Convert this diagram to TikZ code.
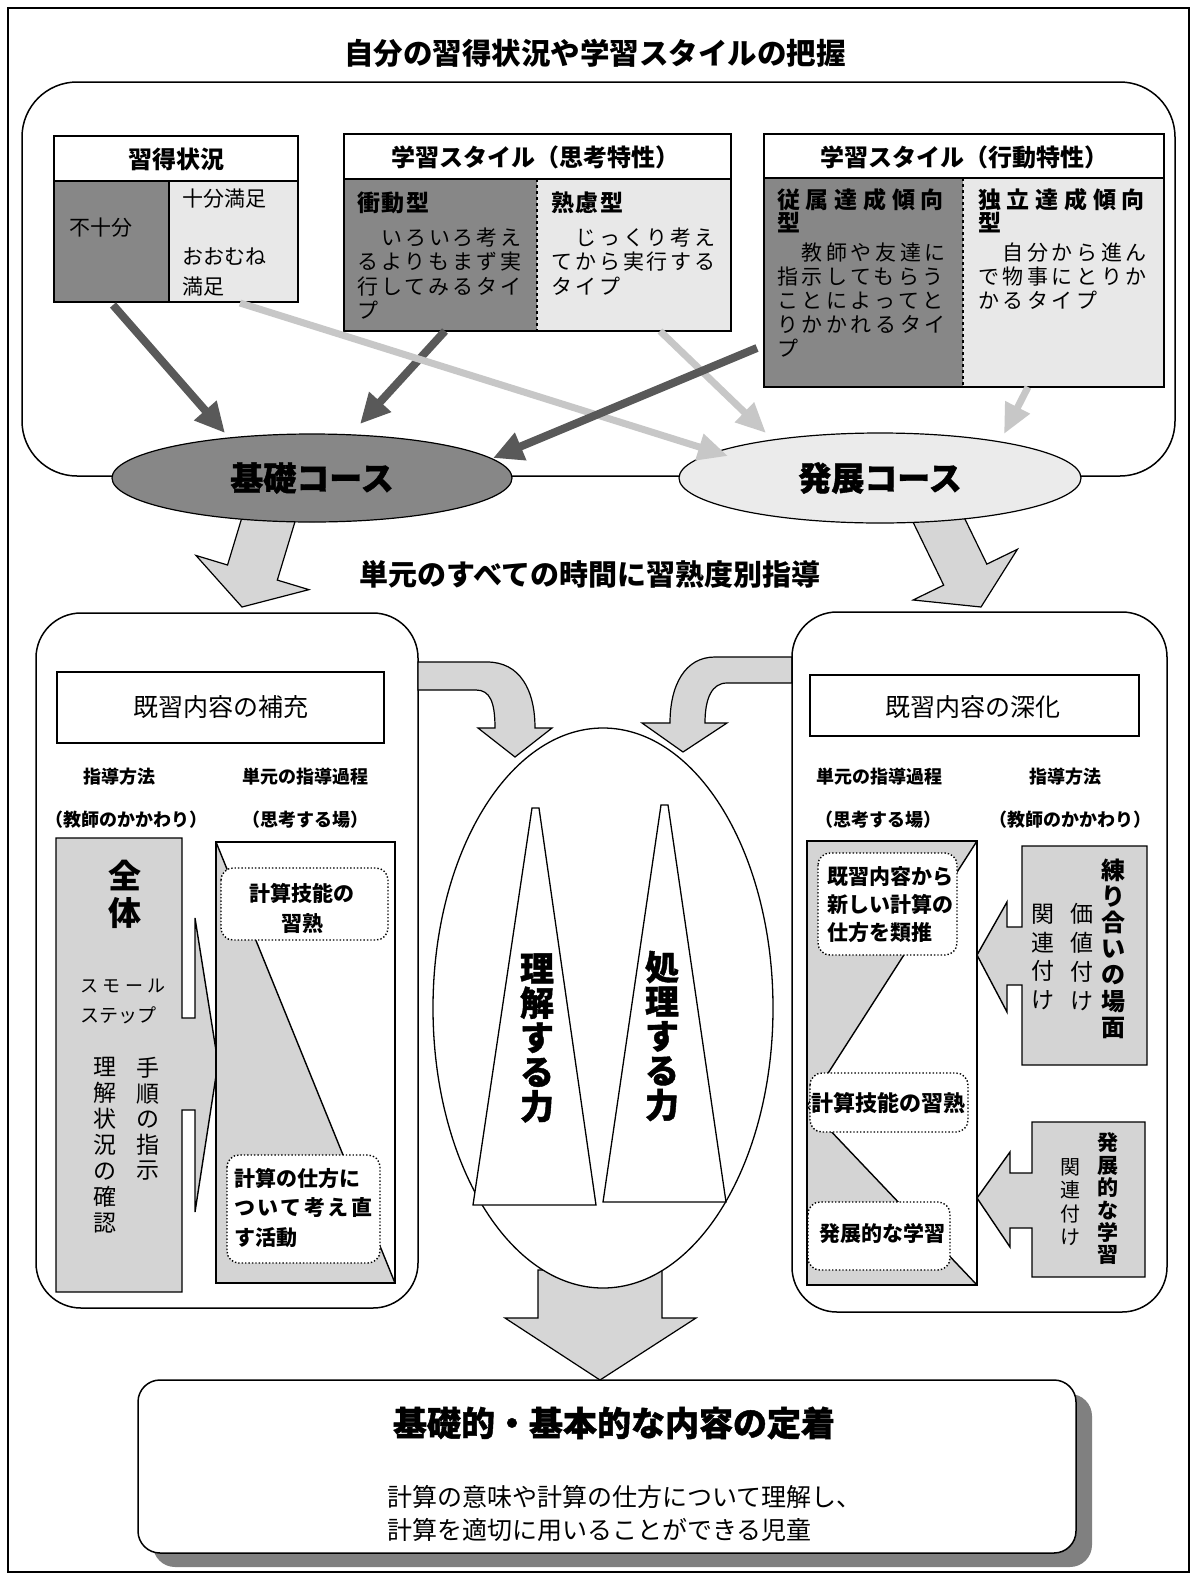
\documentclass[tikz,border=0pt]{standalone}
\usepackage{fontspec}
\setmainfont{Noto Sans CJK JP}
\newfontfamily\jp{Noto Sans CJK JP}
\newfontfamily\jpheavy[FakeBold=1.2]{Noto Sans CJK JP}
\newfontfamily\jpsa[LetterSpace=14]{Noto Sans CJK JP}
\newfontfamily\jpsb[LetterSpace=17]{Noto Sans CJK JP}
\newfontfamily\jpsc[LetterSpace=25]{Noto Sans CJK JP}
\newfontfamily\jpsd[LetterSpace=7]{Noto Sans CJK JP}
\newfontfamily\jpse[LetterSpace=12]{Noto Sans CJK JP}
\usetikzlibrary{arrows.meta,calc,shapes.geometric}
\newcommand\myfs[2]{\fontsize{#1}{#2}\selectfont}
\newcommand\blockarrow[4]{%
  \coordinate (#1-b) at ($(#1-e)!#4!(#1-s)$);
  \draw[blockstyle] ($(#1-s)!#2!90:(#1-e)$) -- ($(#1-b)!#2!-90:(#1-s)$) -- ($(#1-b)!#3!-90:(#1-s)$) -- (#1-e) -- ($(#1-b)!#3!90:(#1-s)$) -- ($(#1-b)!#2!90:(#1-s)$) -- ($(#1-s)!#2!-90:(#1-e)$) -- cycle;}
\begin{document}
\begin{tikzpicture}[x=1pt,y=-1pt,
  every node/.style={inner sep=0pt},
  frameline/.style={line width=1.5pt},
  panelline/.style={line width=1.5pt},
  cellbox/.style={draw, line width=1.4pt},
  darkcell/.style={fill=black!47},
  lightcell/.style={fill=black!9},
  darkarrow/.style={draw=black!65, line width=8pt, -{Triangle[length=30pt,width=28pt]}},
  lightarrow/.style={draw=black!22, line width=7pt, -{Triangle[length=30pt,width=26pt]}},
  blockstyle/.style={fill=black!16, draw, line width=1.2pt, line join=miter},
  grayfill/.style={fill=black!17},
  dotbox/.style={draw, dotted, line width=1.4pt, fill=white, rounded corners=12pt},
  lbl/.style={font=\jp\bfseries\myfs{18}{20}},
  ]
\useasboundingbox (0,0) rectangle (1196,1577);
\fill[white] (0,0) rectangle (1196,1577);
% outer frame
\draw[frameline] (8,8) rectangle (1189,1572);
\node[font=\jp\bfseries\myfs{29.5}{32}] (title) at (595,53) {自分の習得状況や学習スタイルの把握};
% top container
\draw[panelline, rounded corners=55pt] (22,82) rectangle (1175,476);

% table 1
\draw[cellbox, fill=white] (54,136) rectangle (298,181);
\draw[cellbox, darkcell] (54,181) rectangle (169,302);
\draw[cellbox, lightcell] (169,181) rectangle (298,302);
\node[font=\jp\bfseries\myfs{24}{26}] (h1) at (176,159) {習得状況};
\node[anchor=west, font=\jp\myfs{21}{24}] (c11) at (69,228) {不十分};
\node[anchor=west, font=\jp\myfs{21}{24}] (c12) at (182,199) {十分満足};
\node[anchor=west, align=left, font=\jp\myfs{21}{30}] (c13) at (182,272) {おおむね\\満足};

% table 2
\draw[cellbox, fill=white] (344,134) rectangle (731,179);
\fill[darkcell] (344,179) rectangle (537,331);
\fill[lightcell] (537,179) rectangle (731,331);
\draw[cellbox] (344,179) rectangle (731,331);
\draw[dashed, line width=1.2pt] (537,179) -- (537,331);
\node[font=\jp\bfseries\myfs{24}{26}] (h2) at (535,157) {学習スタイル（思考特性）};
\node[anchor=west, font=\jpsd\bfseries\myfs{23}{26}] (c21) at (357,203) {衝動型};
\node[anchor=west, align=left, font=\jpsa\myfs{21}{24.4}] (c22) at (357,273.5) {　いろいろ考え\\るよりもまず実\\行してみるタイ\\プ};
\node[anchor=west, font=\jpsd\bfseries\myfs{23}{26}] (c23) at (551,203) {熟慮型};
\node[anchor=west, align=left, font=\jpsa\myfs{21}{24.4}] (c24) at (551,261.5) {　じっくり考え\\てから実行する\\タイプ};

% table 3
\draw[cellbox, fill=white] (764,134) rectangle (1164,178);
\fill[darkcell] (764,178) rectangle (963,387);
\fill[lightcell] (963,178) rectangle (1164,387);
\draw[cellbox] (764,178) rectangle (1164,387);
\draw[dashed, line width=1.2pt] (963,178) -- (963,387);
\node[font=\jp\bfseries\myfs{24}{26}] (h3) at (964,157) {学習スタイル（行動特性）};
\node[anchor=west, align=left, font=\jpsc\bfseries\myfs{23}{23}] (c31) at (777,210.5) {従属達成傾向\\型};
\node[anchor=west, align=left, font=\jpsb\myfs{21}{24}] (c32) at (777,300) {　教師や友達に\\指示してもらう\\ことによってと\\りかかれるタイ\\プ};
\node[anchor=west, align=left, font=\jpsc\bfseries\myfs{23}{23}] (c33) at (978,210.5) {独立達成傾向\\型};
\node[anchor=west, align=left, font=\jpsb\myfs{21}{24}] (c34) at (978,276) {　自分から進ん\\で物事にとりか\\かるタイプ};

% block arrows from course ellipses
\coordinate (bal-s) at (275,498); \coordinate (bal-e) at (242,607);
\blockarrow{bal}{26pt}{59pt}{36pt}
\coordinate (bar-s) at (928,498); \coordinate (bar-e) at (981,607);
\blockarrow{bar}{24pt}{58pt}{36pt}

% course ellipses
\node[ellipse, draw, line width=1.2pt, fill=black!47, minimum width=400pt, minimum height=88pt,
      font=\jpheavy\bfseries\myfs{33}{36}] (kiso) at (312,478) {基礎コース};
\node[ellipse, draw, line width=1.2pt, fill=black!8, minimum width=402pt, minimum height=90pt,
      font=\jpheavy\bfseries\myfs{33}{36}] (hatten) at (880,478) {発展コース};

% thick arrows
\coordinate (da1s) at (113,305); \coordinate (da1e) at (225,433);
\coordinate (da2s) at (445,331); \coordinate (da2e) at (360,424);
\coordinate (da3s) at (757,348); \coordinate (da3e) at (493,458);
\coordinate (la4s) at (240,303); \coordinate (la4e) at (728,456);
\coordinate (la5s) at (660,331); \coordinate (la5e) at (766,433);
\coordinate (la6s) at (1028,387); \coordinate (la6e) at (1004,434);
\draw[darkarrow] (da1s) -- (da1e);
\draw[darkarrow] (da2s) -- (da2e);
\draw[lightarrow] (la4s) -- (la4e);
\draw[lightarrow] (la5s) -- (la5e);
\draw[lightarrow] (la6s) -- (la6e);
\draw[darkarrow] (da3s) -- (da3e);

\node[font=\jp\bfseries\myfs{29}{32}] (sub) at (590,574) {単元のすべての時間に習熟度別指導};

% ===== left panel =====
\draw[panelline, rounded corners=45pt] (36,613) rectangle (418,1308);
\draw[line width=1.4pt] (57,672) rectangle (384,743);
\node[font=\jp\myfs{25}{28}] (lt) at (221,707) {既習内容の補充};
\node[lbl] (l1) at (119,777) {指導方法};
\node[lbl] (l2) at (305,777) {単元の指導過程};
\node[lbl] (l3) at (126,820) {（教師のかかわり）};
\node[lbl] (l4) at (305,820) {（思考する場）};
% left gray arrow box
\draw[grayfill, draw, line width=1.4pt, line join=miter] (56,838) -- (182,838) -- (182,1018) -- (195,1018) -- (195,918) -- (218,1063) -- (195,1212) -- (195,1110) -- (182,1110) -- (182,1292) -- (56,1292) -- cycle;
\node[align=center, font=\jp\bfseries\myfs{33}{37}] (zentai) at (125,894.5) {全\\体};
\node[anchor=west, font=\jpsc\myfs{18}{20}] (sm1) at (80,986) {スモール};
\node[anchor=west, font=\jp\myfs{19}{20}] (sm2) at (80,1015) {ステップ};
\node[align=center, font=\jp\myfs{23}{25.5}] (tejun) at (148,1119) {手\\順\\の\\指\\示};
\node[align=center, font=\jp\myfs{23}{26}] (rikaijk) at (105,1145) {理\\解\\状\\況\\の\\確\\認};
% left process box
\fill[grayfill] (216,842) -- (395,1283) -- (216,1283) -- cycle;
\draw[line width=1.4pt] (216,842) rectangle (395,1283);
\draw[line width=1.4pt] (216,842) -- (395,1283);
\draw[dotbox] (221,868) rectangle (388,940);
\node[align=center, font=\jp\bfseries\myfs{21}{30}] (ld1) at (302,908) {計算技能の\\習熟};
\draw[dotbox] (227,1155) rectangle (380,1263);
\node[anchor=west, align=left, font=\jp\bfseries\myfs{21}{29.5}] (ld2) at (234,1207.5) {計算の仕方に\\{\jpse\bfseries ついて考え直}\\す活動};

% curved arrows into the centre
\draw[blockstyle] (418,662) -- (487,662) .. controls (520,662) and (535,690) .. (535,728) -- (552,728) -- (515,757) -- (478,728) -- (495,728) .. controls (495,702) and (490,690) .. (476,690) -- (418,690) -- cycle;
\draw[blockstyle] (792,657) -- (715,657) .. controls (685,657) and (670,685) .. (670,723) -- (642,723) -- (683,752) -- (727,723) -- (705,723) .. controls (705,698) and (712,683) .. (727,683) -- (792,683) -- cycle;

% bottom arrow
\draw[blockstyle] (538,1270) -- (662,1270) -- (662,1318) -- (696,1318) -- (600,1380) -- (505,1318) -- (538,1318) -- cycle;

% centre ellipse
\node[ellipse, draw, line width=1.3pt, fill=white, minimum width=340pt, minimum height=560pt] (core) at (603,1008) {};
\draw[line width=1.3pt, fill=white] (532,808) -- (539,808) -- (596,1205) -- (473,1205) -- cycle;
\draw[line width=1.3pt, fill=white] (661,805) -- (668,805) -- (726,1202) -- (603,1202) -- cycle;
\node[align=center, font=\jpheavy\bfseries\myfs{34}{34.5}] (rikai) at (537,1038) {理\\解\\す\\る\\力};
\node[align=center, font=\jpheavy\bfseries\myfs{34}{34.5}] (shori) at (662,1036) {処\\理\\す\\る\\力};

% ===== right panel =====
\draw[panelline, rounded corners=45pt] (792,612) rectangle (1167,1312);
\draw[line width=1.4pt] (810,675) rectangle (1139,736);
\node[font=\jp\myfs{25}{28}] (rt) at (973,707) {既習内容の深化};
\node[lbl] (r1) at (879,777) {単元の指導過程};
\node[lbl] (r2) at (1065,777) {指導方法};
\node[lbl] (r3) at (878,820) {（思考する場）};
\node[lbl] (r4) at (1070,820) {（教師のかかわり）};
% right process box
\fill[grayfill] (807,841) -- (977,841) -- (807,1106) -- (977,1285) -- (807,1285) -- cycle;
\draw[line width=1.4pt] (807,841) rectangle (977,1285);
\draw[line width=1.4pt] (977,841) -- (807,1106) -- (977,1285);
\draw[dotbox] (818,853) rectangle (957,955);
\node[anchor=west, align=left, font=\jp\bfseries\myfs{21}{28}] (rd1) at (827,905) {既習内容から\\新しい計算の\\仕方を類推};
\draw[dotbox] (810,1073) rectangle (968,1132);
\node[font=\jp\bfseries\myfs{22}{24}] (rd2) at (888,1103) {計算技能の習熟};
\draw[dotbox] (808,1202) rectangle (950,1270);
\node[font=\jp\bfseries\myfs{21}{24}] (rd3) at (882,1233) {発展的な学習};
% right gray arrow boxes
\draw[grayfill, draw, line width=1.4pt, line join=miter] (1022,846) -- (1147,846) -- (1147,1065) -- (1022,1065) -- (1022,985) -- (1007,985) -- (1007,1012) -- (977,955) -- (1007,902) -- (1007,927) -- (1022,927) -- cycle;
\node[align=center, font=\jp\bfseries\myfs{24}{26.2}] (neri) at (1113,948.5) {練\\り\\合\\い\\の\\場\\面};
\node[align=center, font=\jp\myfs{23}{28.7}] (kachi) at (1082,957) {価\\値\\付\\け};
\node[align=center, font=\jp\myfs{23}{28.7}] (kanren1) at (1043,957) {関\\連\\付\\け};
\draw[grayfill, draw, line width=1.4pt, line join=miter] (1032,1122) -- (1145,1122) -- (1145,1277) -- (1032,1277) -- (1032,1228) -- (1010,1228) -- (1010,1247) -- (977,1198) -- (1010,1152) -- (1010,1173) -- (1032,1173) -- cycle;
\node[align=center, font=\jp\bfseries\myfs{21}{22.4}] (hatgaku) at (1108,1199) {発\\展\\的\\な\\学\\習};
\node[align=center, font=\jp\myfs{20}{23.3}] (kanren2) at (1070,1202) {関\\連\\付\\け};

% ===== bottom box =====
\fill[black!50, rounded corners=22pt] (153,1394) rectangle (1092,1567);
\draw[panelline, fill=white, rounded corners=22pt] (138,1380) rectangle (1076,1553);
\node[font=\jpheavy\bfseries\myfs{34}{36}] (goal) at (614,1423) {基礎的・基本的な内容の定着};
\node[anchor=west, align=left, font=\jp\myfs{25}{33}] (goaltext) at (387,1513.5) {計算の意味や計算の仕方について理解し、\\計算を適切に用いることができる児童};
\end{tikzpicture}
\end{document}
